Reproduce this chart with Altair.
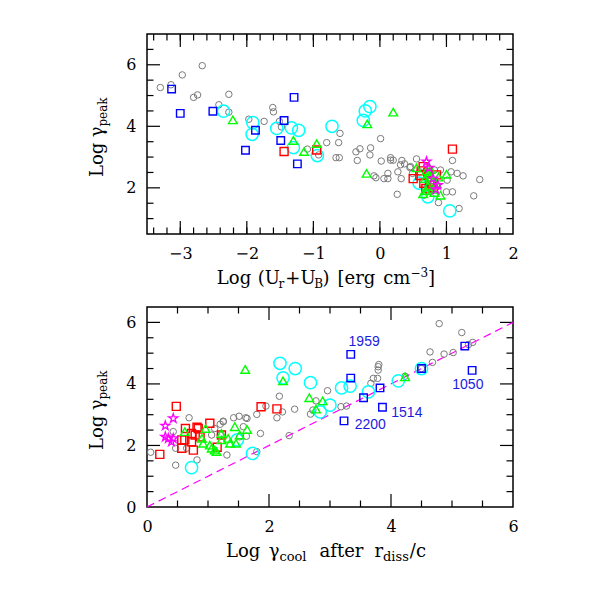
import altair as alt
import pandas as pd

# ---------------- data: top panel (x = Log(Ur+UB), y = Log gamma_peak) ----------------
top_gray_x = [-3.30, -3.14, -2.97, -2.67, -2.80, -2.74, -2.27, -2.42, -2.27, -1.97, -1.74, -1.61, -1.60, -1.51, -1.48, -1.09, -0.92, -0.80,
              -0.60, -0.62, 0.01, -0.36, -0.30, -0.14, -0.66, -0.61, -0.34, -0.15, 0.02, 0.16, 0.20, 0.16, 0.33, 0.37, 0.46, 0.55, 1.09,
              0.31, -0.09, -0.06, 0.06, 0.12, 0.12, 0.27, 0.32, 0.45, 0.26, 0.82, 0.91, 1.01, 1.09, 1.16, 1.25, 1.50, 1.41, 1.19, 0.88,
              0.66, 0.49, 0.60, 1.07, 1.00]
top_gray_y = [5.26, 5.35, 5.67, 5.97, 4.94, 5.02, 5.04, 4.70, 4.46, 4.23, 4.16, 4.61, 4.47, 4.16, 3.98, 3.26, 3.07, 3.47,
              3.77, 3.47, 3.60, 3.17, 3.27, 3.30, 2.98, 2.98, 2.89, 3.07, 2.87, 2.98, 2.90, 2.90, 2.89, 2.78, 2.69, 2.94, 2.89,
              2.75, 2.39, 2.33, 2.30, 2.30, 2.47, 2.52, 2.30, 2.66, 1.79, 2.58, 2.58, 2.25, 1.87, 2.47, 2.39, 2.27, 1.74, 1.33, 1.52,
              1.76, 2.47, 2.52, 2.52, 1.87]
top_blue_x = [-3.13, -3.00, -2.51, -1.29, -1.44, -1.87, -1.49, -2.02, -1.24]
top_blue_y = [5.21, 4.42, 4.49, 4.94, 4.19, 3.87, 3.54, 3.22, 2.78]
top_cyan_x = [-2.35, -1.91, -1.92, -1.55, -1.33, -1.22, -1.30, -0.94, -0.72, -0.22, -0.15, -0.25, 0.59, 0.72, 1.05]
top_cyan_y = [4.49, 4.12, 3.74, 3.93, 3.95, 3.87, 3.31, 3.05, 4.00, 4.50, 4.64, 4.19, 2.15, 1.71, 1.25]
top_green_x = [-2.21, -1.30, -1.14, -0.95, -0.19, 0.20, -0.20, 0.55, 1.00, 0.91, 0.65,
               0.70, 0.75, 0.80, 0.72, 0.78, 0.85, 0.68, 0.82, 0.74, 0.88, 0.70, 0.76]
top_green_y = [4.21, 3.54, 3.18, 3.44, 4.08, 4.46, 2.47, 2.65, 2.44, 1.76, 1.81,
               2.55, 2.35, 2.25, 2.05, 1.95, 2.15, 2.30, 1.85, 2.45, 2.35, 1.90, 2.60]
top_red_x = [-1.44, -0.95, 1.09, 0.50, 0.65, 0.85, 0.77, 0.69, 0.60, 0.72, 0.80, 0.66, 0.75, 0.62]
top_red_y = [3.18, 3.23, 3.26, 2.30, 2.69, 2.42, 2.09, 1.98, 2.40, 2.50, 2.00, 2.15, 2.20, 2.55]
top_mag_x = [0.70, 0.87, 0.80, 0.74, 0.84]
top_mag_y = [2.85, 2.09, 2.30, 2.65, 1.95]

# ---------------- data: bottom panel (x = Log gamma_cool, y = Log gamma_peak) ----------------
bot_gray_x = [0.69, 2.96, 2.17, 1.95, 1.80, 1.42, 1.51, 1.62, 1.64, 1.25, 1.20, 2.13, 2.22, 2.42, 2.77, 2.68, 2.72,
              4.79, 5.16, 5.34, 5.27, 4.64, 4.87, 5.02, 4.68, 3.80, 3.79, 3.79, 3.71, 3.78, 3.67, 4.23, 3.18, 3.27, 4.50,
              0.06, 0.43, 0.47, 0.47, 0.65, 0.82, 1.06, 1.25, 1.11, 1.31, 1.52, 1.58, 1.63, 1.86, 1.80, 2.33, 1.20]
bot_gray_y = [2.90, 3.78, 3.60, 3.28, 3.01, 2.90, 2.95, 2.90, 2.88, 2.79, 2.69, 2.90, 3.09, 3.18, 3.45, 3.02, 3.15,
              5.96, 5.67, 5.35, 5.28, 5.04, 4.97, 5.02, 4.70, 4.63, 4.56, 4.45, 4.18, 4.18, 4.02, 4.25, 3.26, 3.28, 4.50,
              1.78, 2.45, 1.91, 1.36, 1.91, 1.53, 2.34, 2.77, 2.55, 1.69, 2.28, 2.61, 2.30, 2.39, 1.80, 2.32, 2.34]
bot_blue_x = [3.34, 3.34, 3.82, 3.55, 3.86, 3.23, 4.50, 5.21, 5.33]
bot_blue_y = [4.96, 4.19, 3.87, 3.55, 3.24, 2.80, 4.50, 5.23, 4.44]
bot_cyan_x = [2.18, 2.43, 2.23, 2.68, 2.84, 3.00, 4.50, 4.12, 3.63, 3.19, 3.33, 0.73, 1.48, 1.73]
bot_cyan_y = [4.67, 4.50, 4.20, 4.04, 3.09, 3.31, 4.50, 4.10, 3.74, 3.87, 3.93, 1.28, 2.18, 1.74]
bot_green_x = [1.61, 2.23, 2.66, 2.88, 2.77, 4.23, 0.62, 0.96, 0.90, 0.92, 1.03, 1.06, 1.14, 1.11, 1.22, 1.33, 1.44,
               1.36, 1.52, 1.64, 1.46, 1.22]
bot_green_y = [4.47, 4.10, 3.55, 3.45, 3.18, 4.23, 2.45, 2.55, 2.23, 2.07, 2.01, 1.91, 1.80, 1.85, 2.18, 2.23, 2.61,
               2.07, 2.34, 2.52, 2.07, 2.39]
bot_red_x = [0.48, 1.87, 2.13, 0.21, 0.63, 0.82, 1.03, 0.57, 0.62, 0.73, 0.79, 0.57, 0.76, 0.87, 0.84, 1.15, 1.22, 0.73]
bot_red_y = [3.27, 3.26, 3.19, 1.71, 2.55, 2.59, 2.72, 2.18, 2.18, 2.39, 2.34, 1.91, 1.85, 2.28, 2.55, 1.94, 2.34, 2.12]
bot_mag_x = [0.43, 0.30, 0.30, 0.35, 0.40, 0.43]
bot_mag_y = [2.88, 2.64, 2.28, 2.23, 2.12, 2.23]

diag_x = [0, 6]
diag_y = [0, 6]

ann_text = ["1959", "1514", "2200", "1050"]
ann_x = [3.56, 4.26, 3.66, 5.26]
ann_y = [5.36, 3.05, 2.66, 3.96]

# tick values
top_x_major = [-3, -2, -1, 0, 1]
top_x_minor = [round(-3.4 + 0.2 * i, 1) for i in range(27)]
top_y_major = [2, 4, 6]
top_y_minor = [1, 1.5, 2.5, 3, 3.5, 4.5, 5, 5.5, 6.5]
bot_x_major = [2, 4]
bot_x_minor = [0.5, 1, 1.5, 2.5, 3, 3.5, 4.5, 5, 5.5]
bot_y_major = [2, 4, 6]
bot_y_minor = [0.5, 1, 1.5, 2.5, 3, 3.5, 4.5, 5, 5.5]

# ---------------- layout ----------------
W, H = 366, 200
SERIF = "DejaVu Serif"
MAJ, MIN = 13, 6.5
STAR = ("M0,-1L0.2245,-0.309L0.951,-0.309L0.363,0.118L0.588,0.809L0,0.382L-0.588,0.809"
        "L-0.363,0.118L-0.951,-0.309L-0.2245,-0.309Z")

# approximate DejaVu Serif advance widths (em)
CW = {" ": .318, "(": .390, ")": .390, "+": .838, "/": .337, "[": .390, "]": .390, "\u2212": .838, "3": .636,
      "L": .637, "U": .770, "B": .686, "a": .596, "c": .560, "e": .592, "f": .370, "g": .640, "i": .320,
      "k": .635, "l": .320, "m": .948, "o": .602, "p": .640, "r": .478, "s": .513, "t": .402, "d": .640,
      "\u03b3": .586}


def piece_w(t, kind, size, sub):
    if kind == "gap":
        return float(t)
    s = size if kind == "main" else sub
    return sum(CW.get(ch, .6) for ch in t) * s


def title_layers(pieces, center, base, rotate=False, size=18, sub=12):
    out = []
    widths = [piece_w(t, k, size, sub) for t, k in pieces]
    total = sum(widths)
    pos = center - total / 2 if not rotate else center + total / 2
    for (t, kind), w in zip(pieces, widths):
        if kind == "gap":
            pos = pos + w if not rotate else pos - w
            continue
        s = size if kind == "main" else sub
        shift = 0 if kind == "main" else (4 if kind == "sub" else -7)
        df = pd.DataFrame({"t": [t]})
        if not rotate:
            ch = alt.Chart(df).mark_text(font=SERIF, fontSize=s, align="left", baseline="alphabetic",
                                         color="black").encode(text="t:N", x=alt.value(pos),
                                                               y=alt.value(base + shift))
            pos += w
        else:
            ch = alt.Chart(df).mark_text(font=SERIF, fontSize=s, align="left", baseline="alphabetic",
                                         angle=270, color="black").encode(text="t:N", x=alt.value(base + shift),
                                                                          y=alt.value(pos))
            pos -= w
        out.append(ch)
    return out


def pts(xs, ys, shape, color, size, sw, xsc, ysc, xax, yax):
    df = pd.DataFrame({"x": xs, "y": ys})
    return alt.Chart(df).mark_point(shape=shape, filled=False, color=color, size=size, strokeWidth=sw,
                                    opacity=1).encode(
        x=alt.X("x:Q", scale=xsc, axis=xax), y=alt.Y("y:Q", scale=ysc, axis=yax))


def ticks(xmaj, xmin, ymaj, ymin, xsc, ysc, xax, yax):
    out = []
    for vals, L in ((xmaj, MAJ), (xmin, MIN)):
        df = pd.DataFrame({"v": vals})
        base = alt.Chart(df).mark_rule(color="black", strokeWidth=1.2)
        out.append(base.encode(x=alt.X("v:Q", scale=xsc, axis=xax), y=alt.value(H), y2=alt.value(H - L)))
        out.append(base.encode(x=alt.X("v:Q", scale=xsc, axis=xax), y=alt.value(0), y2=alt.value(L)))
    for vals, L in ((ymaj, MAJ), (ymin, MIN)):
        df = pd.DataFrame({"v": vals})
        base = alt.Chart(df).mark_rule(color="black", strokeWidth=1.2)
        out.append(base.encode(y=alt.Y("v:Q", scale=ysc, axis=yax), x=alt.value(0), x2=alt.value(L)))
        out.append(base.encode(y=alt.Y("v:Q", scale=ysc, axis=yax), x=alt.value(W), x2=alt.value(W - L)))
    return out


def axis(vals):
    return alt.Axis(values=vals, ticks=False, tickSize=0, domain=False, grid=False, labelFont=SERIF,
                    labelFontSize=16, labelColor="black", labelPadding=11, labelFlush=False, title=None,
                    labelOverlap=False)


def panel(series, xsc, ysc, xvals, yvals, tk, extra, xtitle, xsub=12):
    xax, yax = axis(xvals), axis(yvals)
    layers = []
    layers += ticks(*tk, xsc, ysc, xax, yax)
    layers += extra(xsc, ysc, xax, yax)
    gx, gy = series["gray"]
    layers.append(pts(gx, gy, "circle", "#7a7a7a", 42, 1.0, xsc, ysc, xax, yax))
    cx, cy = series["cyan"]
    layers.append(pts(cx, cy, "circle", "#00ffff", 150, 1.5, xsc, ysc, xax, yax))
    rx, ry = series["red"]
    layers.append(pts(rx, ry, "square", "#ff0000", 64, 1.4, xsc, ysc, xax, yax))
    grx, gry = series["green"]
    layers.append(pts(grx, gry, "triangle-up", "#00ff00", 75, 1.4, xsc, ysc, xax, yax))
    bx, by = series["blue"]
    layers.append(pts(bx, by, "square", "#0000ff", 56, 1.4, xsc, ysc, xax, yax))
    mx, my = series["mag"]
    layers.append(pts(mx, my, STAR, "#ff00ff", 90, 1.3, xsc, ysc, xax, yax))
    layers += title_layers(xtitle, W / 2 - 4, H + 50, sub=xsub)
    layers += title_layers([("Log", "main"), ("6", "gap"), ("\u03b3", "main"), ("peak", "sub")], H / 2 + 3, -44,
                           rotate=True)
    return alt.layer(*layers).properties(width=W, height=H)


top_xsc = alt.Scale(domain=[-3.5, 2], nice=False, zero=False)
top_ysc = alt.Scale(domain=[0.5, 7], nice=False, zero=False)
bot_xsc = alt.Scale(domain=[0, 6], nice=False, zero=False)
bot_ysc = alt.Scale(domain=[0, 6.5], nice=False, zero=False)


def no_extra(xsc, ysc, xax, yax):
    return []


def bot_extra(xsc, ysc, xax, yax):
    line = alt.Chart(pd.DataFrame({"x": diag_x, "y": diag_y})).mark_line(
        color="#ff00ff", strokeDash=[8, 5], strokeWidth=1.2).encode(
        x=alt.X("x:Q", scale=xsc, axis=xax), y=alt.Y("y:Q", scale=ysc, axis=yax))
    ann = alt.Chart(pd.DataFrame({"t": ann_text, "x": ann_x, "y": ann_y})).mark_text(
        font="Liberation Sans", fontSize=14, color="#1c1ce0", align="center", baseline="middle").encode(
        text="t:N", x=alt.X("x:Q", scale=xsc, axis=xax), y=alt.Y("y:Q", scale=ysc, axis=yax))
    return [line, ann]


top = panel({"gray": (top_gray_x, top_gray_y), "cyan": (top_cyan_x, top_cyan_y), "red": (top_red_x, top_red_y),
             "green": (top_green_x, top_green_y), "blue": (top_blue_x, top_blue_y), "mag": (top_mag_x, top_mag_y)},
            top_xsc, top_ysc, [-3, -2, -1, 0, 1, 2], [2, 4, 6],
            (top_x_major, top_x_minor, top_y_major, top_y_minor), no_extra,
            [("Log", "main"), ("7", "gap"), ("(U", "main"), ("r", "sub"), ("1", "gap"), ("+U", "main"),
             ("B", "sub"), (")", "main"), ("8", "gap"), ("[erg", "main"), ("8", "gap"), ("cm", "main"),
             ("\u22123", "sup"), ("]", "main")])

bottom = panel({"gray": (bot_gray_x, bot_gray_y), "cyan": (bot_cyan_x, bot_cyan_y), "red": (bot_red_x, bot_red_y),
                "green": (bot_green_x, bot_green_y), "blue": (bot_blue_x, bot_blue_y), "mag": (bot_mag_x, bot_mag_y)},
               bot_xsc, bot_ysc, [0, 2, 4, 6], [0, 2, 4, 6],
               (bot_x_major, bot_x_minor, bot_y_major, bot_y_minor), bot_extra,
               [("Log", "main"), ("9", "gap"), ("\u03b3", "main"), ("cool", "sub"), ("13", "gap"), ("after", "main"),
                ("11", "gap"), ("r", "main"), ("diss", "sub"), ("1", "gap"), ("/c", "main")], xsub=13)

chart = alt.vconcat(top, bottom, spacing=14).properties(
    padding={"left": 80, "top": 24, "right": 5, "bottom": 5}
).configure(background="white").configure_view(stroke="black", strokeWidth=1.5)

chart.save("out.html", embed_options={"renderer": "svg", "actions": False})
